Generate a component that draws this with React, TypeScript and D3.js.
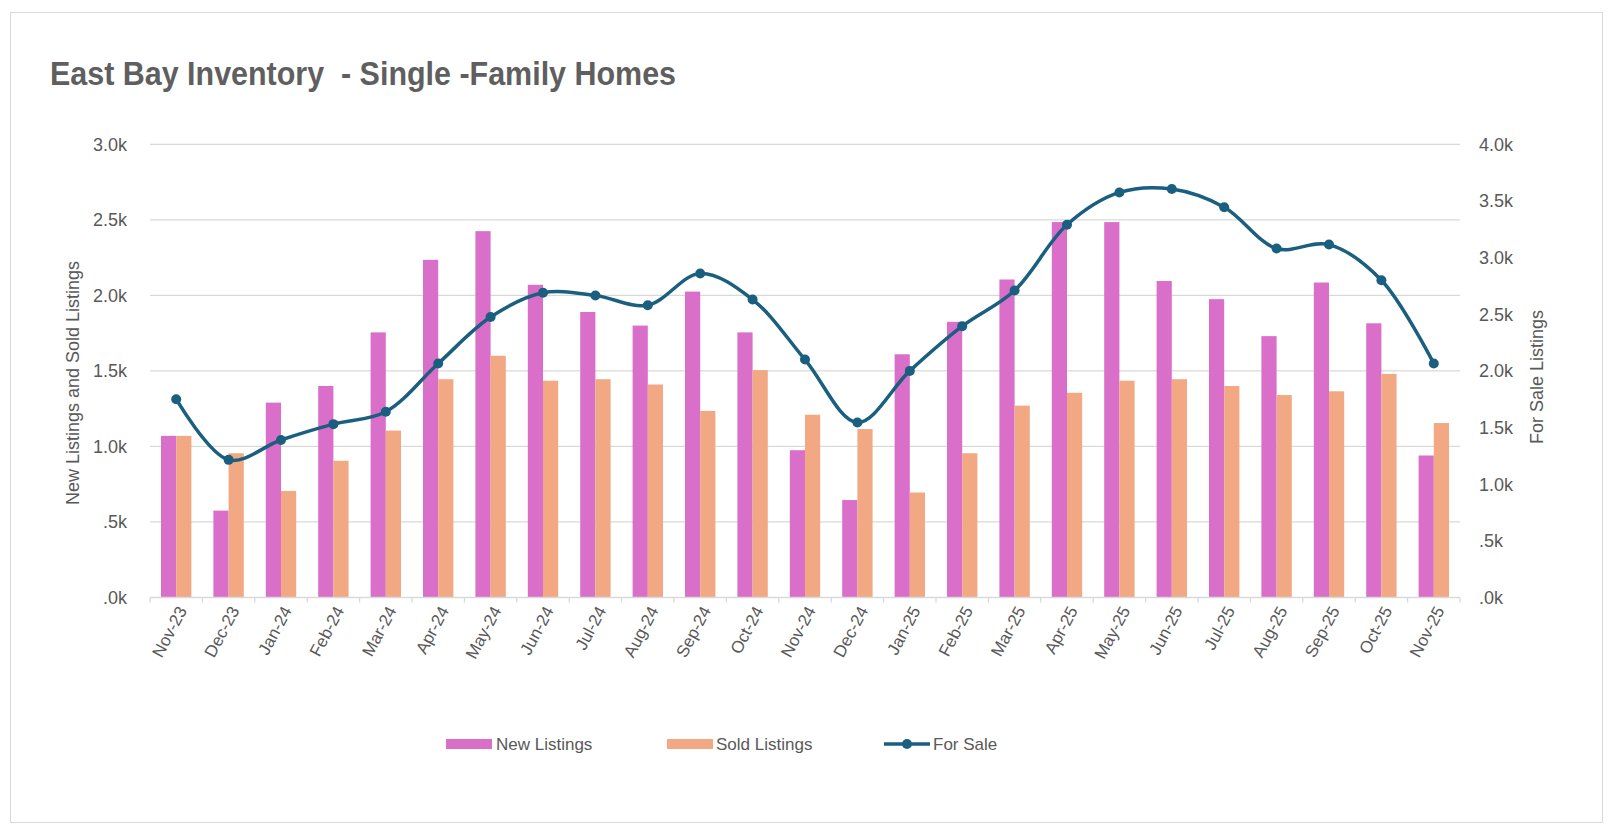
import * as d3 from "d3";
import { useEffect, useRef } from "react";

const months = [
  "Nov-23", "Dec-23", "Jan-24", "Feb-24", "Mar-24", "Apr-24", "May-24", "Jun-24",
  "Jul-24", "Aug-24", "Sep-24", "Oct-24", "Nov-24", "Dec-24", "Jan-25", "Feb-25",
  "Mar-25", "Apr-25", "May-25", "Jun-25", "Jul-25", "Aug-25", "Sep-25", "Oct-25", "Nov-25",
];
const newListings = [
  1070, 575, 1290, 1400, 1755, 2235, 2425, 2070, 1890, 1800, 2025, 1755, 975,
  645, 1610, 1825, 2105, 2485, 2485, 2095, 1975, 1730, 2085, 1815, 940,
];
const soldListings = [
  1070, 955, 705, 905, 1105, 1445, 1600, 1435, 1445, 1410, 1235, 1505, 1210,
  1115, 695, 955, 1270, 1355, 1435, 1445, 1400, 1340, 1365, 1480, 1155,
];
const forSale = [
  1750, 1215, 1390, 1530, 1640, 2065, 2475, 2690, 2665, 2580, 2860, 2630, 2100,
  1545, 2000, 2395, 2710, 3290, 3575, 3605, 3445, 3080, 3115, 2800, 2065,
];
const leftTicks = [0, 500, 1000, 1500, 2000, 2500, 3000];
const rightTicks = [0, 500, 1000, 1500, 2000, 2500, 3000, 3500, 4000];

const fmtK = (v: number) => {
  const s = (v / 1000).toFixed(1) + "k";
  return s.startsWith("0") ? s.slice(1) : s;
};

export default function App() {
  const svgRef = useRef<SVGSVGElement>(null);

  useEffect(() => {
    document.body.style.margin = "0";
    render();
  }, []);

  const render = () => {
    const W = 1610;
    const H = 832;
    const plot = { left: 150, right: 1460, top: 144.3, bottom: 597.5 };
    const font = "'Liberation Sans', Arial, sans-serif";
    const gray = "#595959";

    const svg = d3.select(svgRef.current).attr("width", W).attr("height", H);
    svg.selectAll("*").remove();

    svg.append("rect")
      .attr("x", 10.5).attr("y", 12.5)
      .attr("width", 1592).attr("height", 810)
      .attr("fill", "white").attr("stroke", "#d9d9d9");

    svg.append("text")
      .attr("x", 50).attr("y", 85)
      .attr("font-family", font).attr("font-weight", "bold")
      .attr("font-size", 34).attr("fill", "#5f5f5f")
      .attr("textLength", 626).attr("lengthAdjust", "spacingAndGlyphs")
      .style("white-space", "pre")
      .text("East Bay Inventory  - Single -Family Homes");

    const x = d3.scaleBand<string>()
      .domain(months)
      .range([plot.left, plot.right])
      .paddingInner(0.42)
      .paddingOuter(0.21);
    const xSub = d3.scaleBand<string>()
      .domain(["new", "sold"])
      .range([0, x.bandwidth()]);
    const yL = d3.scaleLinear().domain([0, 3000]).range([plot.bottom, plot.top]);
    const yR = d3.scaleLinear().domain([0, 4000]).range([plot.bottom, plot.top]);

    // gridlines
    svg.append("g")
      .selectAll("line")
      .data(leftTicks.filter((t) => t > 0))
      .join("line")
      .attr("x1", plot.left).attr("x2", plot.right)
      .attr("y1", (d) => yL(d)).attr("y2", (d) => yL(d))
      .attr("stroke", "#d9d9d9").attr("stroke-width", 1.3);

    // left ticks
    svg.append("g")
      .selectAll("text")
      .data(leftTicks)
      .join("text")
      .attr("x", 127).attr("y", (d) => yL(d))
      .attr("dy", "0.35em")
      .attr("text-anchor", "end")
      .attr("font-family", font).attr("font-size", 18)
      .attr("fill", gray)
      .text((d) => fmtK(d));

    // right ticks
    svg.append("g")
      .selectAll("text")
      .data(rightTicks)
      .join("text")
      .attr("x", 1479).attr("y", (d) => yR(d))
      .attr("dy", "0.35em")
      .attr("text-anchor", "start")
      .attr("font-family", font).attr("font-size", 18)
      .attr("fill", gray)
      .text((d) => fmtK(d));

    svg.append("text")
      .attr("transform", "translate(79,383) rotate(-90)")
      .attr("text-anchor", "middle")
      .attr("font-family", font).attr("font-size", 18)
      .attr("fill", gray)
      .text("New Listings and Sold Listings");

    svg.append("text")
      .attr("transform", "translate(1543,377) rotate(-90)")
      .attr("text-anchor", "middle")
      .attr("font-family", font).attr("font-size", 18)
      .attr("fill", gray)
      .text("For Sale Listings");

    // bars
    const groups = svg.append("g")
      .selectAll("g")
      .data(months)
      .join("g")
      .attr("transform", (d) => `translate(${x(d)},0)`);
    groups.append("rect")
      .attr("x", xSub("new")!)
      .attr("width", xSub.bandwidth())
      .attr("y", (d, i) => yL(newListings[i]))
      .attr("height", (d, i) => plot.bottom - yL(newListings[i]))
      .attr("fill", "#d96fc9");
    groups.append("rect")
      .attr("x", xSub("sold")!)
      .attr("width", xSub.bandwidth())
      .attr("y", (d, i) => yL(soldListings[i]))
      .attr("height", (d, i) => plot.bottom - yL(soldListings[i]))
      .attr("fill", "#f2a983");

    // x axis
    const step = x.step();
    svg.append("line")
      .attr("x1", plot.left).attr("x2", plot.right)
      .attr("y1", plot.bottom).attr("y2", plot.bottom)
      .attr("stroke", "#d9d9d9").attr("stroke-width", 1.3);
    svg.append("g")
      .selectAll("line")
      .data(d3.range(months.length + 1))
      .join("line")
      .attr("x1", (i) => plot.left + i * step).attr("x2", (i) => plot.left + i * step)
      .attr("y1", plot.bottom).attr("y2", plot.bottom + 5)
      .attr("stroke", "#d9d9d9").attr("stroke-width", 1.3);

    svg.append("g")
      .selectAll("text")
      .data(months)
      .join("text")
      .attr("transform", (d) => `translate(${x(d)! + x.bandwidth() / 2 + 6},${plot.bottom + 10}) rotate(-62)`)
      .attr("text-anchor", "end")
      .attr("dy", "0.35em")
      .attr("font-family", font).attr("font-size", 17)
      .attr("fill", gray)
      .text((d) => d);

    // for sale line
    const cx = (i: number) => x(months[i])! + x.bandwidth() / 2;
    const line = d3.line<number>()
      .x((d, i) => cx(i))
      .y((d) => yR(d))
      .curve(d3.curveCatmullRom.alpha(0.5));
    svg.append("path")
      .datum(forSale)
      .attr("d", line)
      .attr("fill", "none")
      .attr("stroke", "#1a5f7f")
      .attr("stroke-width", 3.5);
    svg.append("g")
      .selectAll("circle")
      .data(forSale)
      .join("circle")
      .attr("cx", (d, i) => cx(i))
      .attr("cy", (d) => yR(d))
      .attr("r", 5)
      .attr("fill", "#1a5f7f");

    // legend
    const ly = 744;
    const legend = svg.append("g").attr("font-family", font).attr("font-size", 17).attr("fill", gray);
    legend.append("rect").attr("x", 446).attr("y", ly - 5).attr("width", 46).attr("height", 10).attr("fill", "#d96fc9");
    legend.append("text").attr("x", 496).attr("y", ly).attr("dy", "0.35em").text("New Listings");
    legend.append("rect").attr("x", 667).attr("y", ly - 5).attr("width", 46).attr("height", 10).attr("fill", "#f2a983");
    legend.append("text").attr("x", 716).attr("y", ly).attr("dy", "0.35em").text("Sold Listings");
    legend.append("line").attr("x1", 884).attr("x2", 930).attr("y1", ly).attr("y2", ly)
      .attr("stroke", "#1a5f7f").attr("stroke-width", 3.5);
    legend.append("circle").attr("cx", 907).attr("cy", ly).attr("r", 5).attr("fill", "#1a5f7f");
    legend.append("text").attr("x", 933).attr("y", ly).attr("dy", "0.35em").text("For Sale");
  };

  return <svg ref={svgRef} style={{ display: "block" }}></svg>;
}
